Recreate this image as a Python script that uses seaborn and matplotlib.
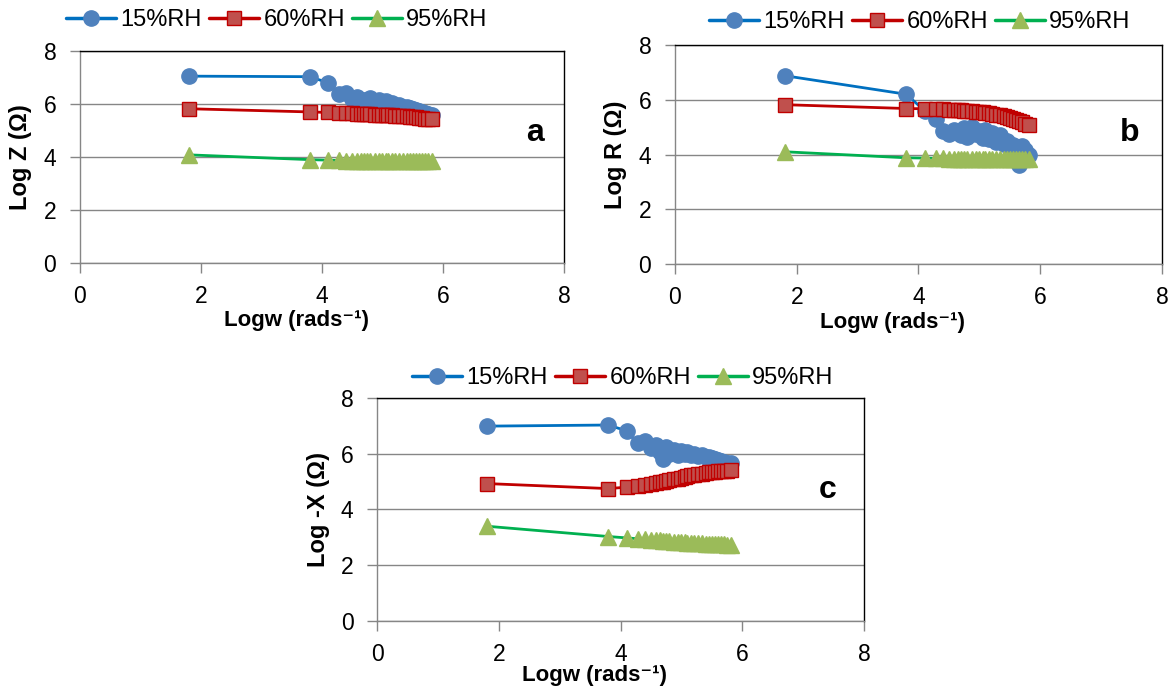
import matplotlib
matplotlib.use("Agg")
import matplotlib.pyplot as plt
import seaborn as sns
import pandas as pd
from matplotlib.lines import Line2D

# ---------------- data ----------------
logw = [1.80, 3.80, 4.10, 4.28, 4.40, 4.50, 4.58, 4.65, 4.70, 4.75, 4.80, 4.88, 4.95, 5.00,
        5.06, 5.10, 5.16, 5.21, 5.28, 5.34, 5.40, 5.45, 5.50, 5.55, 5.60, 5.65, 5.70, 5.75, 5.82]

series_names = ["15%RH", "60%RH", "95%RH"]

# panel a : Log Z
a_15 = [7.05, 7.03, 6.80, 6.38, 6.42, 6.18, 6.25, 6.10, 6.15, 6.05, 6.22, 6.08, 6.15, 6.05,
        6.10, 5.98, 6.02, 5.95, 5.97, 5.90, 5.88, 5.84, 5.80, 5.77, 5.73, 5.70, 5.66, 5.62, 5.58]
a_60 = [5.82, 5.70, 5.68, 5.67, 5.66, 5.65, 5.64, 5.63, 5.62, 5.62, 5.61, 5.60, 5.60, 5.59,
        5.58, 5.58, 5.57, 5.56, 5.55, 5.54, 5.53, 5.52, 5.50, 5.49, 5.48, 5.46, 5.45, 5.43, 5.42]
a_95 = [4.08, 3.90, 3.88, 3.87, 3.86, 3.86, 3.85, 3.85, 3.85, 3.85, 3.84, 3.84, 3.84, 3.84,
        3.84, 3.84, 3.84, 3.84, 3.84, 3.84, 3.84, 3.84, 3.84, 3.84, 3.84, 3.84, 3.84, 3.84, 3.84]

# panel b : Log R
b_15 = [6.88, 6.20, 5.60, 5.28, 4.85, 4.75, 4.90, 4.80, 4.70, 4.95, 4.65, 5.00, 4.75, 4.85,
        4.60, 4.90, 4.55, 4.80, 4.45, 4.70, 4.40, 4.50, 4.30, 4.35, 4.20, 3.60, 4.30, 4.15, 4.00]
b_60 = [5.82, 5.68, 5.67, 5.66, 5.65, 5.64, 5.63, 5.62, 5.61, 5.60, 5.59, 5.58, 5.56, 5.55,
        5.54, 5.52, 5.50, 5.48, 5.46, 5.43, 5.40, 5.37, 5.34, 5.31, 5.27, 5.23, 5.18, 5.13, 5.08]
b_95 = [4.10, 3.88, 3.87, 3.86, 3.86, 3.85, 3.85, 3.85, 3.85, 3.85, 3.85, 3.85, 3.85, 3.85,
        3.85, 3.85, 3.85, 3.85, 3.85, 3.85, 3.85, 3.85, 3.85, 3.85, 3.85, 3.85, 3.85, 3.85, 3.85]

# panel c : Log -X
c_15 = [6.99, 7.03, 6.82, 6.37, 6.46, 6.20, 6.30, 6.06, 5.80, 6.24, 6.00, 6.15, 5.95, 6.10,
        5.98, 6.05, 5.95, 6.00, 5.92, 5.95, 5.88, 5.87, 5.84, 5.80, 5.78, 5.75, 5.72, 5.68, 5.65]
c_60 = [4.93, 4.75, 4.80, 4.84, 4.88, 4.92, 4.95, 4.98, 5.00, 5.02, 5.05, 5.08, 5.11, 5.14,
        5.17, 5.19, 5.22, 5.24, 5.27, 5.29, 5.31, 5.33, 5.35, 5.36, 5.37, 5.38, 5.39, 5.39, 5.40]
c_95 = [3.40, 3.03, 2.98, 2.95, 2.93, 2.91, 2.90, 2.89, 2.88, 2.87, 2.86, 2.85, 2.84, 2.83,
        2.82, 2.81, 2.80, 2.79, 2.78, 2.78, 2.77, 2.77, 2.76, 2.76, 2.75, 2.75, 2.75, 2.74, 2.74]

x_ticks = [0, 2, 4, 6, 8]
y_ticks = [0, 2, 4, 6, 8]
x_label = "Logw (rads\u207b\u00b9)"
y_labels = ["Log Z (\u03a9)", "Log R (\u03a9)", "Log -X (\u03a9)"]
panel_letters = ["a", "b", "c"]

# ---------------- style ----------------
sns.set_theme(style="white")
plt.rcParams["font.family"] = ["Liberation Sans", "DejaVu Sans"]
plt.rcParams["text.color"] = "black"
plt.rcParams["axes.labelcolor"] = "black"

line_colors = ["#0070C0", "#C00000", "#00B050"]
face_colors = ["#4F81BD", "#C0504D", "#9BBB59"]
edge_colors = ["#4F81BD", "#C00000", "#9BBB59"]
markers = ["o", "s", "^"]
msizes = [11, 10.5, 11.5]

fig = plt.figure(figsize=(11.69, 6.87), dpi=100)
positions = [
    [0.0684, 0.6172, 0.4140, 0.3086],
    [0.5774, 0.6157, 0.4166, 0.3188],
    [0.3225, 0.0961, 0.4166, 0.3246],
]
legend_anchor = [(0.237, 0.971), (0.787, 0.968), (0.533, 0.450)]
letter_pos = [(7.52, 4.9), (7.47, 4.8), (7.4, 4.7)]
xlabel_y = [-0.222, -0.22, -0.197]
ylabel_x = [-0.099, -0.0986, -0.0965]

panel_data = [(a_15, a_60, a_95), (b_15, b_60, b_95), (c_15, c_60, c_95)]

for i, pdata in enumerate(panel_data):
    ax = fig.add_axes(positions[i])
    for j, ys in enumerate(pdata):
        df = pd.DataFrame({"x": logw, "y": ys})
        sns.lineplot(data=df, x="x", y="y", ax=ax, sort=False, color=line_colors[j],
                     linewidth=2.0, marker=markers[j], markersize=msizes[j],
                     markerfacecolor=face_colors[j], markeredgecolor=edge_colors[j],
                     markeredgewidth=1.0, zorder=3 + j)
    ax.set_xlim(0, 8)
    ax.set_ylim(0, 8)
    ax.set_xticks(x_ticks)
    ax.set_yticks(y_ticks)
    ax.tick_params(axis="both", labelsize=16.5, labelcolor="black", color="#868686",
                   length=7, width=1, direction="out", bottom=True, left=True)
    ax.tick_params(axis="x", pad=9)
    ax.tick_params(axis="y", pad=10)
    ax.yaxis.grid(True, color="#868686", linewidth=1)
    ax.xaxis.grid(False)
    ax.set_axisbelow(True)
    for s in ["left", "bottom"]:
        ax.spines[s].set_color("#868686")
        ax.spines[s].set_linewidth(1)
    for s in ["top", "right"]:
        ax.spines[s].set_color("#000000")
        ax.spines[s].set_linewidth(1)
    ax.set_xlabel(x_label, fontsize=16, fontweight="bold", color="black")
    ax.xaxis.set_label_coords(0.447, xlabel_y[i])
    ax.set_ylabel(y_labels[i], fontsize=17, fontweight="bold", color="black")
    ax.yaxis.set_label_coords(ylabel_x[i], 0.5)
    ax.text(letter_pos[i][0], letter_pos[i][1], panel_letters[i], fontsize=23,
            fontweight="bold", ha="center", va="center", color="black")
    if ax.get_legend() is not None:
        ax.get_legend().remove()
    handles = [Line2D([0], [0], color=line_colors[j], linewidth=2.5, marker=markers[j],
                      markersize=msizes[j], markerfacecolor=face_colors[j],
                      markeredgecolor=edge_colors[j]) for j in range(3)]
    fig.legend(handles, series_names, loc="center", bbox_to_anchor=legend_anchor[i],
               ncol=3, frameon=False, fontsize=17, handlelength=2.1,
               handletextpad=0.2, columnspacing=0.3, borderpad=0)

fig.savefig("out.png", dpi=100)
